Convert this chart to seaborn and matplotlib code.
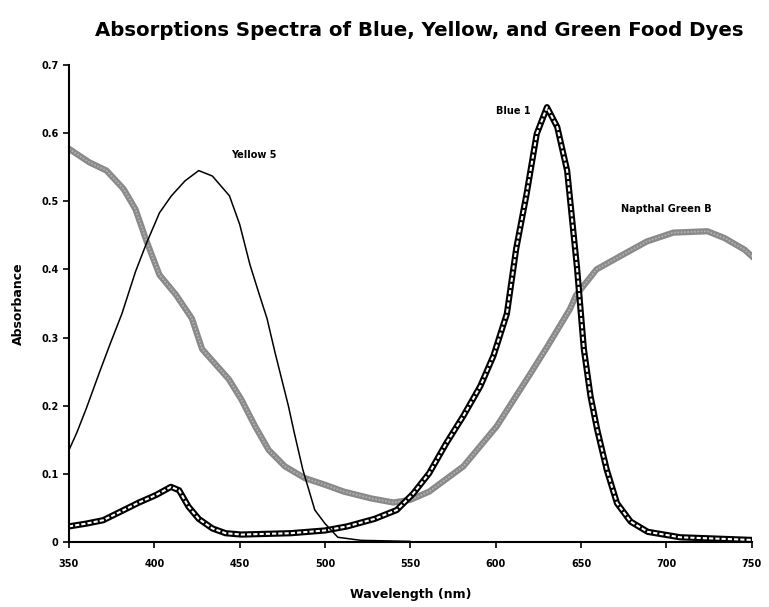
import matplotlib
matplotlib.use("Agg")
import matplotlib.pyplot as plt
import pandas as pd
import seaborn as sns

# Yellow 5
yellow_nm = [350, 354.5, 360, 368, 374, 381, 389, 395.5, 403, 410, 418, 426, 434, 444,
             450, 456, 461, 466, 470.7, 478.5, 482, 487, 494, 500, 507.5, 521, 550]
yellow_abs = [0.135, 0.16, 0.195, 0.25, 0.29, 0.335, 0.397, 0.439, 0.483, 0.508, 0.53, 0.545,
              0.537, 0.508, 0.466, 0.407, 0.367, 0.328, 0.278, 0.2, 0.16, 0.106, 0.047, 0.027,
              0.007, 0.0025, 0.001]

# Blue 1
blue_nm = [350, 360, 370, 379.7, 391, 401, 409.7, 414.5, 420, 426, 434, 441.7, 451, 480, 500,
           513, 529, 542, 551.6, 561, 571, 581, 591, 598.6, 606.5, 612, 618, 624, 630, 636,
           641.8, 647.6, 651.6, 655.5, 659.4, 665, 671, 679, 689, 708, 751]
blue_abs = [0.023, 0.027, 0.032, 0.044, 0.058, 0.069, 0.081, 0.076, 0.052, 0.034, 0.02, 0.013,
            0.011, 0.013, 0.017, 0.023, 0.034, 0.047, 0.071, 0.101, 0.145, 0.185, 0.229, 0.273,
            0.335, 0.431, 0.51, 0.599, 0.638, 0.609, 0.545, 0.402, 0.283, 0.214, 0.165, 0.106,
            0.057, 0.03, 0.015, 0.007, 0.003]

# Napthol Green B
green_nm = [350, 362, 372, 382, 389, 395.5, 403, 412.6, 422, 428, 443.6, 451, 459, 467, 476.5,
            488, 500, 511, 527, 540, 550, 561, 581, 600.6, 620, 630, 643.5, 647, 659, 674.7,
            688.5, 704, 724, 734, 745.7, 751]
green_abs = [0.577, 0.557, 0.545, 0.518, 0.488, 0.441, 0.392, 0.363, 0.328, 0.283, 0.239, 0.209,
             0.17, 0.135, 0.111, 0.094, 0.084, 0.074, 0.064, 0.058, 0.062, 0.074, 0.111, 0.17,
             0.246, 0.286, 0.342, 0.362, 0.4, 0.422, 0.441, 0.454, 0.456, 0.446, 0.429, 0.417]

x_ticks = [350, 400, 450, 500, 550, 600, 650, 700, 750]
y_ticks = [0, 0.1, 0.2, 0.3, 0.4, 0.5, 0.6, 0.7]
y_tick_labels = ["0", "0.1", "0.2", "0.3", "0.4", "0.5", "0.6", "0.7"]

yellow = pd.DataFrame({"nm": yellow_nm, "abs": yellow_abs})
blue = pd.DataFrame({"nm": blue_nm, "abs": blue_abs})
green = pd.DataFrame({"nm": green_nm, "abs": green_abs})

sns.set_style("ticks")
plt.rcParams["font.family"] = ["DejaVu Sans"]
plt.rcParams["text.color"] = "black"
plt.rcParams["axes.labelcolor"] = "black"

fig = plt.figure(figsize=(7.69, 6.07), dpi=100)
ax = fig.add_axes([0.0897, 0.107, 0.888, 0.786])

sns.lineplot(data=green, x="nm", y="abs", color="#8a8a8a", linewidth=4.5, ax=ax,
             sort=False, estimator=None)
sns.lineplot(data=green, x="nm", y="abs", color="#b5b5b5", linewidth=1.2, ax=ax,
             sort=False, estimator=None, linestyle=(0, (1, 1)))
sns.lineplot(data=blue, x="nm", y="abs", color="black", linewidth=4.5, ax=ax,
             sort=False, estimator=None)
sns.lineplot(data=blue, x="nm", y="abs", color="white", linewidth=1.5, ax=ax,
             sort=False, estimator=None, linestyle=(0, (2, 1)))
sns.lineplot(data=yellow, x="nm", y="abs", color="black", linewidth=1.1, ax=ax,
             sort=False, estimator=None)

ax.set_xlim(350, 750)
ax.set_ylim(0, 0.7)
ax.set_xticks(x_ticks)
ax.set_xticklabels([str(t) for t in x_ticks])
ax.set_yticks(y_ticks)
ax.set_yticklabels(y_tick_labels)
ax.tick_params(axis="both", labelsize=7, length=4, width=1.2, direction="out", colors="black")
for lab in ax.get_xticklabels() + ax.get_yticklabels():
    lab.set_fontweight("bold")
ax.tick_params(axis="x", pad=8)

sns.despine(ax=ax)
for s in ["left", "bottom"]:
    ax.spines[s].set_linewidth(1.5)
    ax.spines[s].set_color("black")

ax.set_xlabel("Wavelength (nm)", fontsize=9, fontweight="bold", labelpad=14)
ax.set_ylabel("Absorbance", fontsize=9, fontweight="bold", labelpad=12)

ax.text(458, 0.568, "Yellow 5", fontsize=7, fontweight="bold", ha="center", va="center")
ax.text(610, 0.633, "Blue 1", fontsize=7, fontweight="bold", ha="center", va="center")
ax.text(700, 0.489, "Napthal Green B", fontsize=7, fontweight="bold", ha="center", va="center")

title = fig.text(0.545, 0.95, "Absorptions Spectra of Blue, Yellow, and Green Food Dyes",
                 fontsize=16, fontweight="bold", ha="center", va="center",
                 family=["DejaVu Sans Condensed", "DejaVu Sans"])
# shrink the title to the width it has in the reference (about 650 px)
fig.canvas.draw()
w = title.get_window_extent().width
title.set_fontsize(16 * 650 / w)

fig.savefig("out.png", dpi=100)
